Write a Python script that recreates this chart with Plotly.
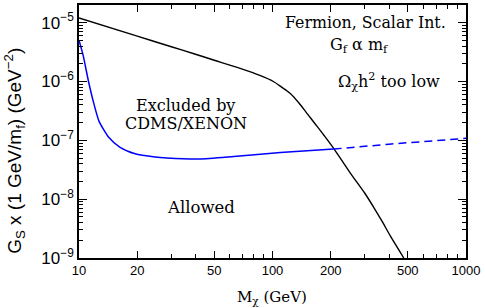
import plotly.graph_objects as go

# Black curve (Omega h^2 boundary)
mass_black = [10, 20, 30, 40, 50, 68, 86, 101, 111, 124, 137, 151, 167, 184, 207, 253, 300, 334, 370, 407, 477]
gs_black = [1.2e-5, 5.9e-6, 3.9e-6, 2.9e-6, 2.3e-6, 1.67e-6, 1.27e-6, 1.0e-6, 8.1e-7,
            6.2e-7, 4.3e-7, 2.85e-7, 1.86e-7, 1.23e-7, 7.3e-8, 2.75e-8, 1.26e-8,
            7.2e-9, 4.1e-9, 2.35e-9, 1.0e-9]

# Blue curve (CDMS/XENON limit), solid part
mass_blue = [10, 10.5, 11.2, 11.85, 12.7, 14.2, 16.3, 19.5, 24.7, 28.4, 42, 63, 110, 207]
gs_blue = [5.05e-6, 2.8e-6, 1.0e-6, 4.6e-7, 2.1e-7, 1.14e-7, 7.6e-8, 5.9e-8, 5.2e-8,
           5.0e-8, 4.8e-8, 5.3e-8, 6.2e-8, 7.1e-8]

# Blue curve, dashed part
mass_blue_dash = [207, 400, 1000]
gs_blue_dash = [7.1e-8, 8.6e-8, 1.08e-7]

x_major = [10, 20, 50, 100, 200, 500, 1000]
x_major_text = ["10", "20", "50", "100", "200", "500", "1000"]
x_minor = [30, 40, 60, 70, 80, 90, 300, 400, 600, 700, 800, 900]
y_major = [1e-9, 1e-8, 1e-7, 1e-6, 1e-5]
y_major_text = ["10<sup>\u22129</sup>", "10<sup>\u22128</sup>", "10<sup>\u22127</sup>",
                "10<sup>\u22126</sup>", "10<sup>\u22125</sup>"]
y_minor = [m * 10.0 ** e for e in range(-9, -4) for m in range(2, 10)]

XR = [1, 3]
YR = [-9, -4.70]

fig = go.Figure()
fig.add_trace(go.Scatter(x=mass_black, y=gs_black, mode="lines",
                         line=dict(color="black", width=1.4, shape="spline", smoothing=0.8),
                         showlegend=False))
fig.add_trace(go.Scatter(x=mass_blue, y=gs_blue, mode="lines",
                         line=dict(color="#0000ff", width=1.5, shape="spline", smoothing=0.6),
                         showlegend=False))
fig.add_trace(go.Scatter(x=mass_blue_dash, y=gs_blue_dash, mode="lines",
                         line=dict(color="#0000ff", width=1.5, dash="8px,5px"), showlegend=False))
# invisible trace to carry minor-tick axes
fig.add_trace(go.Scatter(x=[10], y=[1e-9], xaxis="x2", yaxis="y2", mode="markers",
                         marker=dict(opacity=0), showlegend=False, hoverinfo="skip"))

serif = "DejaVu Serif"
sans = "Liberation Sans"

fig.update_layout(
    width=485, height=308,
    margin=dict(l=79, r=19, t=3, b=50),
    paper_bgcolor="white", plot_bgcolor="white",
    xaxis=dict(type="log", range=XR, tickvals=x_major, ticktext=x_major_text,
               ticks="inside", ticklen=7, tickwidth=1.2, tickcolor="black",
               showline=True, linecolor="black", linewidth=1.5, mirror="allticks",
               showgrid=False, zeroline=False,
               tickfont=dict(family=sans, size=13, color="black")),
    yaxis=dict(type="log", range=YR, tickvals=y_major, ticktext=y_major_text,
               ticksuffix="\u00a0",
               ticks="inside", ticklen=8, tickwidth=1.2, tickcolor="black",
               showline=True, linecolor="black", linewidth=1.5, mirror="allticks",
               showgrid=False, zeroline=False,
               tickfont=dict(family=sans, size=17, color="black")),
    xaxis2=dict(type="log", range=XR, overlaying="x", anchor="y", tickvals=x_minor,
                ticks="inside", ticklen=4, tickwidth=1, tickcolor="black",
                showticklabels=False, mirror="allticks", showline=False,
                showgrid=False, zeroline=False),
    yaxis2=dict(type="log", range=YR, overlaying="y", anchor="x", tickvals=y_minor,
                ticks="inside", ticklen=4, tickwidth=1, tickcolor="black",
                showticklabels=False, mirror="allticks", showline=False,
                showgrid=False, zeroline=False),
)

def note(text, x, y, size=16, xanchor="center", family=serif):
    fig.add_annotation(text=text, x=x, y=y, xref="x", yref="y", showarrow=False,
                       xanchor=xanchor, yanchor="middle",
                       font=dict(family=family, size=size, color="black"))

note("Fermion, Scalar Int.", 2.908, -5.0, size=15.8, xanchor="right")
note("G<sub>f</sub> \u03b1 m<sub>f</sub>", 2.449, -5.38)
note("\u03a9<sub>\u03c7</sub>h<sup>2</sup> too low", 2.604, -6.0)
note("Excluded by", 1.552, -6.41)
note("CDMS/XENON", 1.552, -6.72)
note("Allowed", 1.630, -8.14, size=16.5)

# axis titles
fig.add_annotation(text="M<sub>\u03c7</sub> (GeV)", x=0.499, y=-0.155, xref="paper", yref="paper",
                   showarrow=False, xanchor="center", yanchor="middle",
                   font=dict(family=serif, size=15, color="black"))
fig.add_annotation(text="G<sub>S</sub> x (1 GeV/m<sub>f</sub>) (GeV<sup>\u22122</sup>)",
                   x=-0.165, y=0.424, xref="paper", yref="paper", textangle=-90,
                   showarrow=False, xanchor="center", yanchor="middle",
                   font=dict(family=sans, size=19, color="black"))

fig.write_html("out.html", config={"displayModeBar": False},
               post_script="document.body.style.margin='0';")
